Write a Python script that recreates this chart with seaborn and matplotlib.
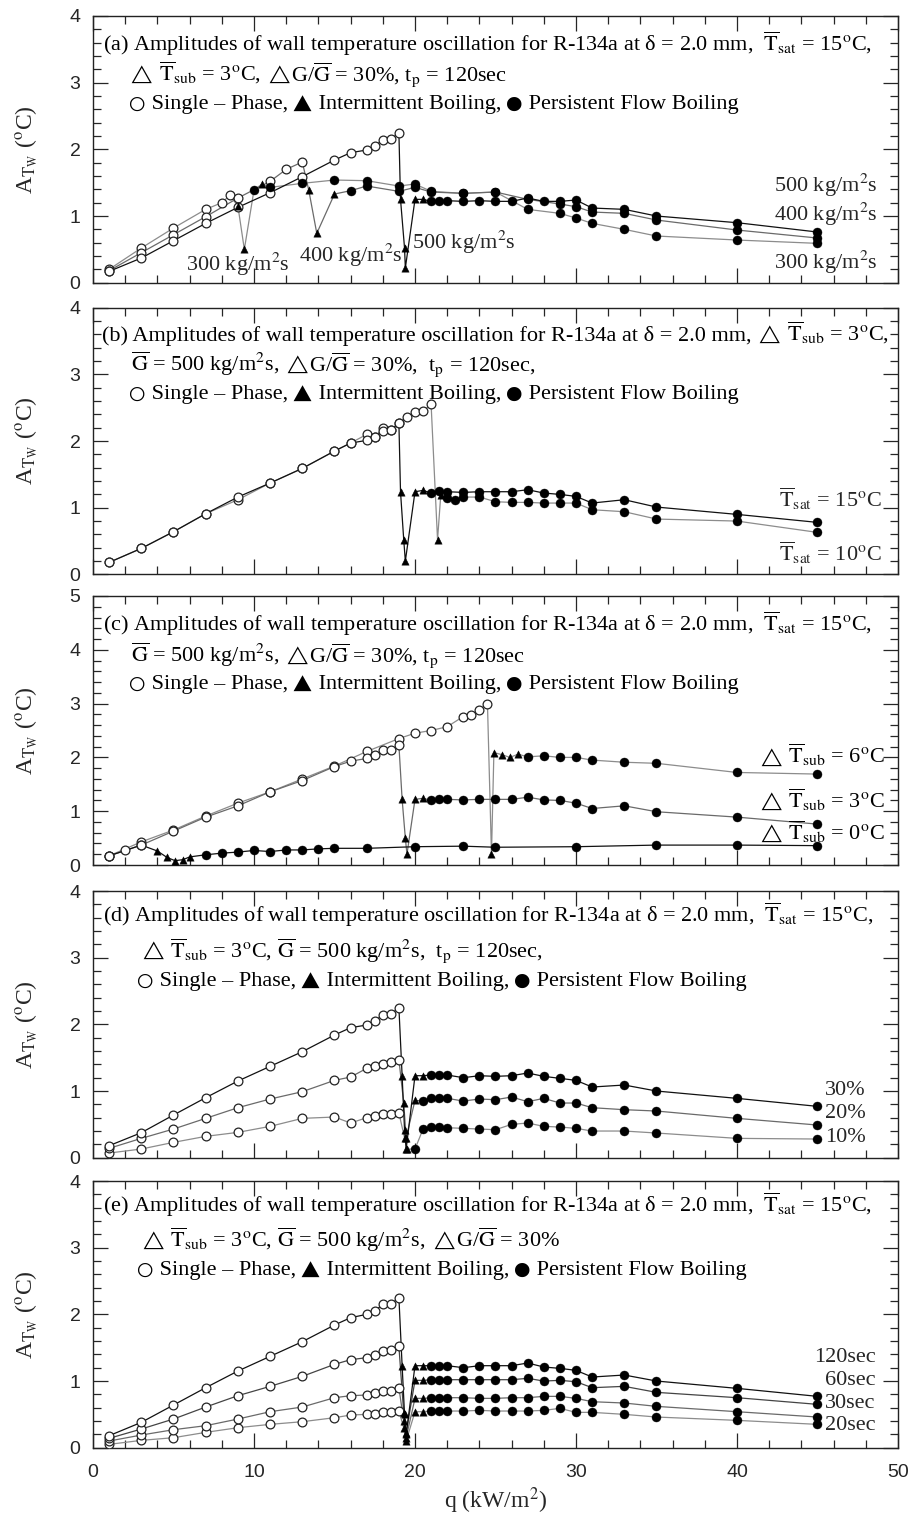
import matplotlib
matplotlib.use("Agg")
import matplotlib.pyplot as plt
import seaborn as sns
import pandas as pd
from matplotlib.ticker import MultipleLocator
from matplotlib.offsetbox import TextArea, HPacker, AnchoredOffsetbox

sns.set_style("ticks")
plt.rcParams["font.family"] = ["Liberation Serif", "DejaVu Sans"]
plt.rcParams["mathtext.fontset"] = "stix"

# ---------------- data ----------------
Q_LOW = [1, 3, 5, 7, 9, 11, 13, 15, 16, 17, 17.5, 18, 18.5, 19]
Q_HIGH = [21, 21.5, 22, 23, 24, 25, 26, 27, 28, 29, 30, 31, 33, 35, 40, 45]

# panel (a): mass flux
qa_300 = [1, 3, 5, 7, 8, 8.5, 9, 9.4, 10, 10.5, 11, 13, 15, 17, 19, 20, 21, 23, 25, 27, 29, 30, 31, 33, 35, 40, 45]
Aa_300 = [0.20, 0.52, 0.82, 1.10, 1.20, 1.31, 1.15, 0.50, 1.39, 1.48, 1.43, 1.49, 1.54, 1.53, 1.45, 1.48, 1.37,
          1.34, 1.36, 1.10, 1.04, 0.97, 0.89, 0.80, 0.70, 0.64, 0.59]
Pa_300 = "S" * 6 + "IIPI" + "P" * 17
qa_400 = [1, 3, 5, 7, 9, 11, 12, 13, 13.4, 13.9, 15, 16, 17, 19, 20, 21, 23, 25, 27, 29, 30, 31, 33, 35, 40, 45]
Aa_400 = [0.18, 0.45, 0.72, 0.99, 1.27, 1.52, 1.70, 1.81, 1.39, 0.74, 1.33, 1.38, 1.45, 1.37, 1.43, 1.36, 1.34,
          1.36, 1.25, 1.18, 1.14, 1.06, 1.04, 0.94, 0.79, 0.67]
Pa_400 = "S" * 8 + "III" + "P" * 15
qa_500 = Q_LOW + [19.1, 19.35, 19.4, 20, 20.5] + Q_HIGH
Aa_500 = [0.17, 0.37, 0.63, 0.89, 1.13, 1.35, 1.59, 1.84, 1.95, 1.99, 2.05, 2.14, 2.15, 2.25,
          1.25, 0.52, 0.22, 1.25, 1.25,
          1.22, 1.23, 1.23, 1.22, 1.23, 1.22, 1.22, 1.27, 1.22, 1.22, 1.24, 1.12, 1.10, 1.00, 0.90, 0.76]
Pa_500 = "S" * 14 + "I" * 5 + "P" * 16

# panel (b): saturation temperature
qb_15 = Q_LOW + [19.1, 19.3, 19.4, 20, 20.5] + Q_HIGH
Ab_15 = [0.18, 0.39, 0.64, 0.91, 1.16, 1.37, 1.59, 1.85, 1.97, 2.01, 2.06, 2.15, 2.17, 2.27,
         1.24, 0.52, 0.20, 1.24, 1.26,
         1.22, 1.25, 1.24, 1.23, 1.24, 1.24, 1.24, 1.27, 1.22, 1.20, 1.17, 1.07, 1.12, 1.01, 0.90, 0.78]
Pb_15 = "S" * 14 + "I" * 5 + "P" * 16
qb_10 = Q_LOW + [19.5, 20, 20.5, 21, 21.4, 21.6, 22, 22.5, 23, 24, 25, 26, 27, 28, 29, 30, 31, 33, 35, 40, 45]
Ab_10 = [0.18, 0.39, 0.64, 0.91, 1.12, 1.37, 1.59, 1.85, 1.97, 2.10, 2.06, 2.20, 2.17, 2.27,
         2.36, 2.43, 2.45, 2.55, 0.52, 1.19,
         1.14, 1.12, 1.16, 1.16, 1.09, 1.08, 1.08, 1.07, 1.07, 1.07, 0.97, 0.94, 0.83, 0.80, 0.63]
Pb_10 = "S" * 18 + "II" + "P" * 15

# panel (c): inlet subcooling
qc_6 = [1, 3, 5, 7, 9, 11, 13, 15, 17, 19, 20, 21, 22, 23, 23.5, 24, 24.5,
        24.75, 24.9, 25.4, 25.9, 26.4, 27, 28, 29, 30, 31, 33, 35, 40, 45]
Ac_6 = [0.17, 0.43, 0.65, 0.91, 1.15, 1.36, 1.60, 1.84, 2.11, 2.35, 2.45, 2.50, 2.57, 2.76, 2.79, 2.89, 3.00,
        0.20, 2.09, 2.05, 2.00, 2.06, 2.01, 2.03, 2.00, 2.00, 1.95, 1.91, 1.89, 1.72, 1.69]
Pc_6 = "S" * 17 + "I" * 5 + "P" * 9
qc_3 = Q_LOW + [19.2, 19.4, 19.5, 20, 20.5] + Q_HIGH
Ac_3 = [0.17, 0.37, 0.63, 0.89, 1.10, 1.36, 1.57, 1.83, 1.93, 1.98, 2.04, 2.14, 2.14, 2.23,
        1.22, 0.50, 0.20, 1.22, 1.24,
        1.20, 1.22, 1.22, 1.21, 1.22, 1.22, 1.22, 1.26, 1.21, 1.20, 1.15, 1.05, 1.10, 0.99, 0.89, 0.76]
Pc_3 = "S" * 14 + "I" * 5 + "P" * 16
qc_0 = [1, 2, 3, 4, 4.6, 5.1, 5.6, 6, 7, 8, 9, 10, 11, 12, 13, 14, 15, 17, 20, 23, 25, 30, 35, 40, 45]
Ac_0 = [0.17, 0.27, 0.37, 0.26, 0.14, 0.08, 0.10, 0.15, 0.19, 0.22, 0.24, 0.27, 0.25, 0.28, 0.28, 0.30,
        0.31, 0.31, 0.34, 0.35, 0.33, 0.34, 0.37, 0.37, 0.36]
Pc_0 = "SSS" + "I" * 5 + "P" * 17

# panel (d): mass flux amplitude
qd_30 = Q_LOW + [19.2, 19.35, 19.45, 20, 20.5] + Q_HIGH
Ad_30 = [0.18, 0.375, 0.64, 0.90, 1.15, 1.37, 1.59, 1.84, 1.95, 1.99, 2.05, 2.14, 2.15, 2.25,
         1.23, 0.42, 0.13, 1.23, 1.23,
         1.24, 1.24, 1.24, 1.20, 1.23, 1.22, 1.23, 1.27, 1.22, 1.19, 1.16, 1.06, 1.09, 1.00, 0.89, 0.77]
Pd_30 = "S" * 14 + "I" * 5 + "P" * 16
qd_20 = Q_LOW + [19.3, 19.45, 20, 20.5] + Q_HIGH
Ad_20 = [0.14, 0.29, 0.43, 0.59, 0.75, 0.88, 0.99, 1.16, 1.21, 1.34, 1.37, 1.40, 1.43, 1.47,
         0.82, 0.30, 0.86, 0.85,
         0.89, 0.90, 0.89, 0.85, 0.88, 0.87, 0.91, 0.84, 0.89, 0.82, 0.82, 0.75, 0.72, 0.70, 0.59, 0.49]
Pd_20 = "S" * 14 + "III" + "P" * 17
qd_10 = Q_LOW + [19.35, 19.5, 20, 20.5] + Q_HIGH
Ad_10 = [0.07, 0.13, 0.23, 0.32, 0.38, 0.47, 0.59, 0.61, 0.52, 0.60, 0.63, 0.65, 0.65, 0.67,
         0.30, 0.13, 0.13, 0.43,
         0.46, 0.46, 0.45, 0.44, 0.43, 0.42, 0.50, 0.52, 0.47, 0.46, 0.44, 0.40, 0.40, 0.37, 0.29, 0.28]
Pd_10 = "S" * 14 + "II" + "P" * 18

# panel (e): period
qe_120 = Q_LOW + [19.2, 19.35, 19.45, 20, 20.5] + Q_HIGH
Ae_120 = [0.18, 0.38, 0.64, 0.90, 1.15, 1.37, 1.59, 1.84, 1.95, 2.00, 2.05, 2.15, 2.15, 2.25,
          1.23, 0.50, 0.20, 1.23, 1.23,
          1.23, 1.23, 1.23, 1.20, 1.23, 1.23, 1.23, 1.27, 1.21, 1.19, 1.16, 1.06, 1.09, 1.00, 0.89, 0.77]
Pe_120 = "S" * 14 + "I" * 5 + "P" * 16
qe_sub = Q_LOW + [19.3, 19.45, 20, 20.5] + Q_HIGH
Ae_60 = [0.14, 0.28, 0.43, 0.61, 0.78, 0.92, 1.07, 1.25, 1.32, 1.35, 1.39, 1.45, 1.46, 1.52,
         0.52, 0.22, 1.01, 1.01,
         1.02, 1.02, 1.02, 1.02, 1.02, 1.02, 1.02, 1.04, 1.00, 1.01, 0.99, 0.90, 0.92, 0.83, 0.75, 0.65]
Ae_30 = [0.10, 0.19, 0.27, 0.33, 0.43, 0.54, 0.61, 0.75, 0.78, 0.79, 0.82, 0.85, 0.85, 0.90,
         0.40, 0.15, 0.74, 0.74,
         0.75, 0.75, 0.75, 0.75, 0.74, 0.74, 0.75, 0.75, 0.77, 0.77, 0.74, 0.69, 0.67, 0.62, 0.54, 0.46]
Ae_20 = [0.05, 0.11, 0.15, 0.23, 0.30, 0.35, 0.39, 0.45, 0.49, 0.50, 0.51, 0.53, 0.53, 0.55,
         0.30, 0.10, 0.54, 0.54,
         0.55, 0.55, 0.55, 0.55, 0.56, 0.55, 0.55, 0.55, 0.56, 0.59, 0.53, 0.53, 0.50, 0.46, 0.41, 0.35]
Pe_sub = "S" * 14 + "I" * 4 + "P" * 16

X_TICKS = [0, 10, 20, 30, 40, 50]

# ---------------- drawing ----------------
fig = plt.figure(figsize=(9.12, 15.16), dpi=100)
L, W = 93 / 912, 805 / 912
H = 266.7 / 1516
axes = {
    "a": fig.add_axes([L, 1 - 282.7 / 1516, W, H]),
    "b": fig.add_axes([L, 1 - 574.4 / 1516, W, H]),
    "c": fig.add_axes([L, 1 - 865.0 / 1516, W, 269 / 1516]),
    "d": fig.add_axes([L, 1 - 1157.7 / 1516, W, H]),
    "e": fig.add_axes([L, 1 - 1447.7 / 1516, W, H]),
}

BLACK, DARK, MID, LIGHT = "#111111", "#444444", "#6a6a6a", "#8c8c8c"


def draw(ax, q, A, phase, color):
    assert len(q) == len(A) == len(phase)
    df = pd.DataFrame({"q": q, "A": A, "ph": list(phase)})
    sns.lineplot(data=df, x="q", y="A", sort=False, estimator=None, color=color,
                 lw=0.9, ax=ax, zorder=2)
    s = df[df.ph == "S"]
    i = df[df.ph == "I"]
    p = df[df.ph == "P"]
    sns.scatterplot(data=s, x="q", y="A", marker="o", s=40, facecolor="white",
                    edgecolor="#222222", linewidth=0.9, ax=ax, zorder=3)
    sns.scatterplot(data=i, x="q", y="A", marker="^", s=28, color="black",
                    edgecolor="black", linewidth=0.3, ax=ax, zorder=4)
    sns.scatterplot(data=p, x="q", y="A", marker="o", s=42, color="black",
                    edgecolor="black", linewidth=0.3, ax=ax, zorder=4)


draw(axes["a"], qa_300, Aa_300, Pa_300, LIGHT)
draw(axes["a"], qa_400, Aa_400, Pa_400, MID)
draw(axes["a"], qa_500, Aa_500, Pa_500, BLACK)
draw(axes["b"], qb_10, Ab_10, Pb_10, LIGHT)
draw(axes["b"], qb_15, Ab_15, Pb_15, BLACK)
draw(axes["c"], qc_6, Ac_6, Pc_6, LIGHT)
draw(axes["c"], qc_3, Ac_3, Pc_3, MID)
draw(axes["c"], qc_0, Ac_0, Pc_0, BLACK)
draw(axes["d"], qd_10, Ad_10, Pd_10, LIGHT)
draw(axes["d"], qd_20, Ad_20, Pd_20, MID)
draw(axes["d"], qd_30, Ad_30, Pd_30, BLACK)
draw(axes["e"], qe_sub, Ae_20, Pe_sub, LIGHT)
draw(axes["e"], qe_sub, Ae_30, Pe_sub, MID)
draw(axes["e"], qe_sub, Ae_60, Pe_sub, DARK)
draw(axes["e"], qe_120, Ae_120, Pe_120, BLACK)

FS = 16
SYM = 14
TRI = (r"$\triangle$", 13.5)
TRI_SP = (r" $\triangle$", 13.5)
TSAT = r"$\overline{\mathrm{T}}_{\mathrm{sat}}$"
TSUB = r" $\overline{\mathrm{T}}_{\mathrm{sub}}$"
GBAR = r"$\overline{\mathrm{G}}$"
DEG = r"$^{\mathrm{o}}$C"
TP = r"t$_{\mathrm{p}}$"
KG = r"kg/m$^{2}$s"
HEAD = "Amplitudes of wall temperature oscillation for R-134a"
LEG = [("$\u25CB$", SYM), " Single – Phase,", (" $\u25B2$", SYM - 2), " Intermittent Boiling,",
       (" $\u25CF$", SYM), " Persistent Flow Boiling"]


def rich(ax, x, y, parts, trans=None, loc="center left"):
    boxes = []
    for p in parts:
        txt, size = (p, FS) if isinstance(p, str) else p
        boxes.append(TextArea(txt, textprops=dict(fontsize=size, color="black")))
    pack = HPacker(children=boxes, align="baseline", pad=0, sep=0)
    box = AnchoredOffsetbox(loc=loc, child=pack, pad=0, borderpad=0, frameon=False,
                            bbox_to_anchor=(x, y),
                            bbox_transform=ax.transAxes if trans is None else trans)
    ax.add_artist(box)


lines = {
    "a": [(0.013, 0.895, [f"(a) {HEAD} at δ = 2.0 mm,  {TSAT} = 15{DEG},"]),
          (0.044, 0.782, [TRI, f"{TSUB} = 3{DEG},", TRI_SP, f"G/{GBAR} = 30%, {TP} = 120sec"]),
          (0.044, 0.672, LEG)],
    "b": [(0.011, 0.905, [f"(b) {HEAD} at δ = 2.0 mm,", TRI_SP, f"{TSUB} = 3{DEG},"]),
          (0.047, 0.789, [f"{GBAR} = 500 {KG},", TRI_SP, f"G/{GBAR} = 30%,  {TP} = 120sec,"]),
          (0.044, 0.678, LEG)],
    "c": [(0.013, 0.896, [f"(c) {HEAD} at δ = 2.0 mm,  {TSAT} = 15{DEG},"]),
          (0.047, 0.781, [f"{GBAR} = 500 {KG},", TRI_SP, f"G/{GBAR} = 30%, {TP} = 120sec"]),
          (0.044, 0.673, LEG)],
    "d": [(0.013, 0.910, [f"(d) {HEAD} at δ = 2.0 mm,  {TSAT} = 15{DEG},"]),
          (0.058, 0.778, [TRI, f"{TSUB} = 3{DEG}, {GBAR} = 500 {KG},  {TP} = 120sec,"]),
          (0.054, 0.662, LEG)],
    "e": [(0.013, 0.910, [f"(e) {HEAD} at δ = 2.0 mm,  {TSAT} = 15{DEG},"]),
          (0.058, 0.779, [TRI, f"{TSUB} = 3{DEG}, {GBAR} = 500 {KG},", TRI_SP, f"G/{GBAR} = 30%"]),
          (0.054, 0.667, LEG)],
}
for k, lst in lines.items():
    for x, y, parts in lst:
        rich(axes[k], x, y, parts)

annots = {
    "a": [(9.0, 0.27, "300 " + KG, "center"), (16.0, 0.41, "400 " + KG, "center"),
          (23.0, 0.61, "500 " + KG, "center"),
          (48.7, 1.46, "500 " + KG, "right"), (48.7, 1.02, "400 " + KG, "right"),
          (48.7, 0.31, "300 " + KG, "right")],
    "b": [(49.0, 1.14, f"{TSAT} = 15{DEG}", "right"), (49.0, 0.32, f"{TSAT} = 10{DEG}", "right")],
    "d": [(48.0, 1.01, "30%", "right"), (48.0, 0.67, "20%", "right"), (48.0, 0.31, "10%", "right")],
    "e": [(48.6, 1.36, "120sec", "right"), (48.6, 1.01, "60sec", "right"),
          (48.6, 0.67, "30sec", "right"), (48.6, 0.34, "20sec", "right")],
}
for k, lst in annots.items():
    for x, y, t, ha in lst:
        axes[k].text(x, y, t, fontsize=FS, ha=ha, va="center")
for y, v in [(2.04, 6), (1.21, 3), (0.62, 0)]:
    rich(axes["c"], 49.2, y, [TRI, f"{TSUB} = {v}{DEG}"], trans=axes["c"].transData, loc="center right")

YLAB = r"A$_{\mathrm{T}_{\mathrm{W}}}$ ($^{\mathrm{o}}$C)"
for k, ax in axes.items():
    ymax = 5 if k == "c" else 4
    ax.set_xlim(0, 50)
    ax.set_ylim(0, ymax)
    ax.set_xticks(X_TICKS)
    ax.set_yticks(list(range(ymax + 1)))
    ax.xaxis.set_minor_locator(MultipleLocator(2))
    ax.yaxis.set_minor_locator(MultipleLocator(0.2))
    ax.tick_params(which="both", direction="in", top=True, right=True, width=0.9,
                   labelsize=14, labelfontfamily="Liberation Sans")
    ax.tick_params(which="major", length=11)
    ax.tick_params(which="minor", length=6)
    ax.tick_params(axis="y", which="major", pad=9)
    ax.tick_params(axis="x", which="major", pad=12)
    for sp in ax.spines.values():
        sp.set_linewidth(1.0)
        sp.set_color("#222222")
    ax.set_ylabel(YLAB, fontsize=17)
    ax.yaxis.set_label_coords(-0.066, 0.5)
    if k != "e":
        ax.set_xlabel("")
        ax.tick_params(labelbottom=False)
    else:
        ax.set_xlabel(r"q (kW/m$^{2}$)", fontsize=17, labelpad=3)

fig.savefig("out.png", dpi=100)
